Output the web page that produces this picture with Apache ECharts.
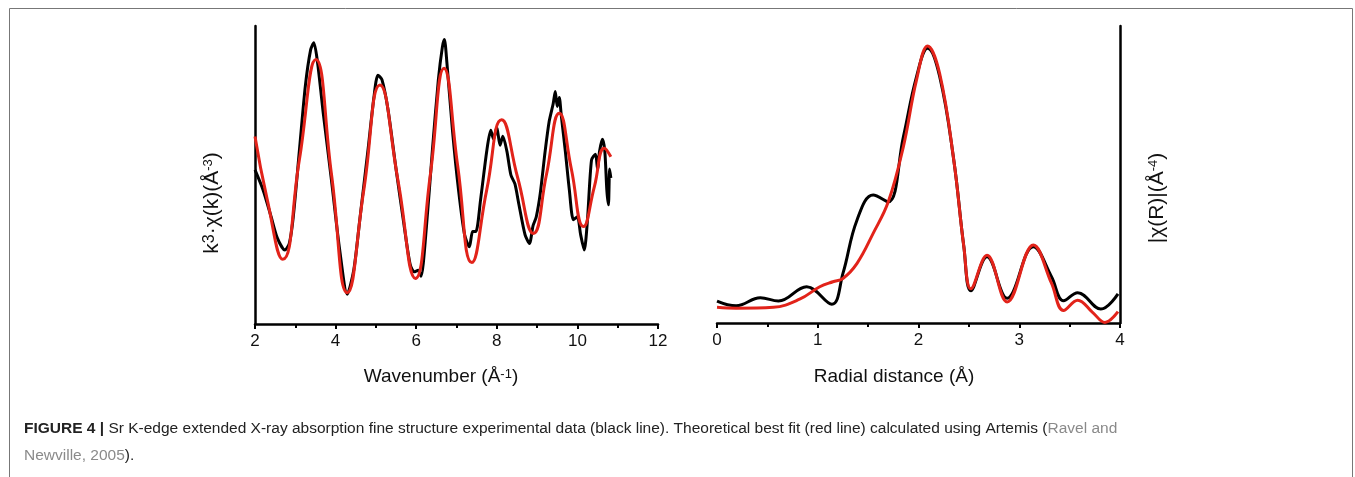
<!DOCTYPE html>
<html>
<head>
<meta charset="utf-8">
<script src="https://cdn.jsdelivr.net/npm/echarts@6/dist/echarts.min.js"></script>
<style>
  html, body { margin: 0; padding: 0; background: #fff; }
  #chart { width: 1355px; height: 477px; }
</style>
</head>
<body>
<div id="chart"></div>
<script>
// k-space (left panel), arbitrary units 0..100
var kFit = [2.0, 2.3, 2.69, 3.1, 3.51, 3.9, 4.29, 4.7, 5.1, 5.55, 5.98, 6.35, 6.69, 7.03, 7.38, 7.75, 8.12, 8.52, 8.91, 9.23, 9.55, 9.85, 10.15, 10.42, 10.67, 10.83]
var chiFit = [62.9, 42, 21.7, 55, 88.8, 50, 10.5, 45, 80.2, 48, 15.3, 50, 85.8, 53, 20.6, 45, 68.5, 49, 30.4, 50, 70.7, 52, 32.7, 46, 59, 56.1]

var kExp = [2.0, 2.2, 2.4, 2.55, 2.74, 2.85, 2.95, 3.1, 3.25, 3.38, 3.46, 3.55, 3.7, 3.9, 4.1, 4.29, 4.45, 4.6, 4.8, 4.95, 5.05, 5.15, 5.3, 5.5, 5.7, 5.85, 5.95, 6.05, 6.12, 6.25, 6.4, 6.55, 6.65, 6.7, 6.76, 6.9, 7.05, 7.2, 7.32, 7.4, 7.48, 7.6, 7.75, 7.85, 7.92, 8.0, 8.08, 8.15, 8.25, 8.35, 8.45, 8.55, 8.7, 8.81, 8.9, 8.98, 9.08, 9.2, 9.3, 9.4, 9.45, 9.5, 9.55, 9.6, 9.7, 9.8, 9.9, 10.0, 10.08, 10.17, 10.25, 10.35, 10.45, 10.5, 10.55, 10.62, 10.68, 10.73, 10.77, 10.8, 10.83]
var chiExp = [51.7, 45, 36, 29, 24.8, 27, 36, 58, 80, 92, 94.4, 88, 70, 48, 25, 10, 18, 35, 58, 76, 83.5, 82, 72, 52, 33, 20, 17.5, 18, 16, 32, 58, 82, 93, 95.5, 88, 65, 45, 30, 25.9, 31, 31, 42, 58, 65, 62, 66, 60, 63, 58, 50, 47, 40, 30, 27, 33, 36, 44, 58, 68, 74, 78, 73, 76, 70, 58, 45, 35, 36, 30, 24.8, 35, 55, 57, 52, 58, 62, 58, 45, 40, 52, 49]

// R-space (right panel), arbitrary units 0..100
var rExp = [0, 0.19, 0.43, 0.61, 0.89, 1.14, 1.25, 1.39, 1.55, 1.7, 1.85, 1.98, 2.09, 2.21, 2.35, 2.45, 2.52, 2.68, 2.88, 3.14, 3.32, 3.44, 3.58, 3.81, 3.98]
var ftExp = [7.4, 5.8, 8.5, 7.4, 12.2, 6.3, 16.7, 34.7, 43.1, 40.8, 62.7, 82.9, 92.5, 83, 54.9, 25.7, 10.9, 22.3, 8.3, 25.7, 15.6, 7.5, 10.2, 4.7, 9.8]

var rFit = [0, 0.19, 0.56, 0.82, 1.02, 1.15, 1.25, 1.39, 1.55, 1.7, 1.85, 1.98, 2.09, 2.21, 2.35, 2.45, 2.52, 2.68, 2.88, 3.14, 3.32, 3.44, 3.58, 3.73, 3.85, 3.98]
var ftFit = [5.3, 5.0, 5.3, 8.0, 12.2, 13.9, 15.0, 20.1, 30.2, 40.8, 59.4, 81.8, 93.3, 84, 54.9, 25.7, 11.5, 22.8, 7.1, 26.3, 13.4, 4.2, 7.7, 3.5, 0.2, 3.8]

var kTicks = { min: 2, max: 12, interval: 2 }
var rTicks = { min: 0, max: 4, interval: 1 }

function pairs(xs, ys) {
  return xs.map(function (x, i) { return [x, ys[i]] })
}

var font = "'Liberation Sans', Arial, sans-serif"
var red = "#e2231a"

function xAxisFor(idx, ticks) {
  return {
    type: "value",
    gridIndex: idx,
    min: ticks.min,
    max: ticks.max,
    interval: ticks.interval,
    splitLine: { show: false },
    axisLine: { show: true, lineStyle: { color: "#000", width: 2.5 } },
    axisTick: { show: true, inside: false, length: 5, lineStyle: { color: "#000", width: 2 } },
    minorTick: { show: true, splitNumber: 2, length: 4, lineStyle: { color: "#000", width: 2 } },
    axisLabel: { color: "#111", fontSize: 17, fontFamily: font, margin: 9, showMinLabel: true, showMaxLabel: true }
  }
}

function yAxisFor(idx, pos) {
  return {
    type: "value",
    gridIndex: idx,
    position: pos,
    min: 0,
    max: 100,
    splitLine: { show: false },
    axisLine: { show: true, onZero: false, lineStyle: { color: "#000", width: 2.5 } },
    axisTick: { show: false },
    axisLabel: { show: false }
  }
}

var chart = echarts.init(document.getElementById("chart"))

var supRich = {
  s: { fontSize: 13, fontFamily: font, fill: "#111", verticalAlign: "top", lineHeight: 16 },
  k: { fontSize: 16, fontFamily: font, fill: "#111", verticalAlign: "top", lineHeight: 18 }
}

chart.setOption({
  animation: false,
  backgroundColor: "#fff",
  grid: [
    { left: 255, top: 26, width: 403, height: 298 },
    { left: 717, top: 26, width: 403, height: 297 }
  ],
  xAxis: [xAxisFor(0, kTicks), xAxisFor(1, rTicks)],
  yAxis: [yAxisFor(0, "left"), yAxisFor(1, "right")],
  series: [
    {
      type: "line", xAxisIndex: 0, yAxisIndex: 0,
      data: pairs(kExp, chiExp), showSymbol: false, smooth: 0.25,
      lineStyle: { color: "#000", width: 3 }
    },
    {
      type: "line", xAxisIndex: 0, yAxisIndex: 0,
      data: pairs(kFit, chiFit), showSymbol: false, smooth: 0.5,
      lineStyle: { color: red, width: 3 }
    },
    {
      type: "line", xAxisIndex: 1, yAxisIndex: 1,
      data: pairs(rExp, ftExp), showSymbol: false, smooth: 0.4,
      lineStyle: { color: "#000", width: 3 }
    },
    {
      type: "line", xAxisIndex: 1, yAxisIndex: 1,
      data: pairs(rFit, ftFit), showSymbol: false, smooth: 0.4,
      lineStyle: { color: red, width: 3 }
    }
  ],
  graphic: [
    // figure frame
    {
      type: "rect", silent: true,
      shape: { x: 9.5, y: 8.5, width: 1343, height: 500 },
      style: { fill: null, stroke: "#777", lineWidth: 1 }
    },
    // axis titles
    {
      type: "text", x: 441, y: 377,
      style: {
        text: "Wavenumber (Å{s|-1})", rich: supRich,
        fontSize: 19, fontFamily: font, fill: "#111", align: "center", verticalAlign: "middle"
      }
    },
    {
      type: "text", x: 894, y: 377,
      style: {
        text: "Radial distance (Å)",
        fontSize: 19, fontFamily: font, fill: "#111", align: "center", verticalAlign: "middle"
      }
    },
    {
      type: "text", x: 212, y: 203, rotation: Math.PI / 2,
      style: {
        text: "k{k|3}·χ(k)(Å{s|-3})", rich: supRich,
        fontSize: 21, fontFamily: font, fill: "#111", align: "center", verticalAlign: "middle"
      }
    },
    {
      type: "text", x: 1157, y: 198, rotation: Math.PI / 2,
      style: {
        text: "|χ(R)|(Å{s|-4})", rich: supRich,
        fontSize: 21, fontFamily: font, fill: "#111", align: "center", verticalAlign: "middle"
      }
    },
    // caption
    {
      type: "text", x: 24, y: 429,
      style: {
        text: "{b|FIGURE 4 |} Sr K-edge extended X-ray absorption fine structure experimental data (black line). Theoretical best fit (red line) calculated using Artemis ({g|Ravel and}",
        rich: {
          b: { fontWeight: "bold", fontSize: 15.5, fontFamily: font, fill: "#222" },
          g: { fontSize: 15.5, fontFamily: font, fill: "#8a8a8a" }
        },
        fontSize: 15.5, fontFamily: font, fill: "#222", verticalAlign: "middle"
      }
    },
    {
      type: "text", x: 24, y: 456,
      style: {
        text: "{g|Newville, 2005}).",
        rich: { g: { fontSize: 15.5, fontFamily: font, fill: "#8a8a8a" } },
        fontSize: 15.5, fontFamily: font, fill: "#222", verticalAlign: "middle"
      }
    }
  ]
})
</script>
</body>
</html>
